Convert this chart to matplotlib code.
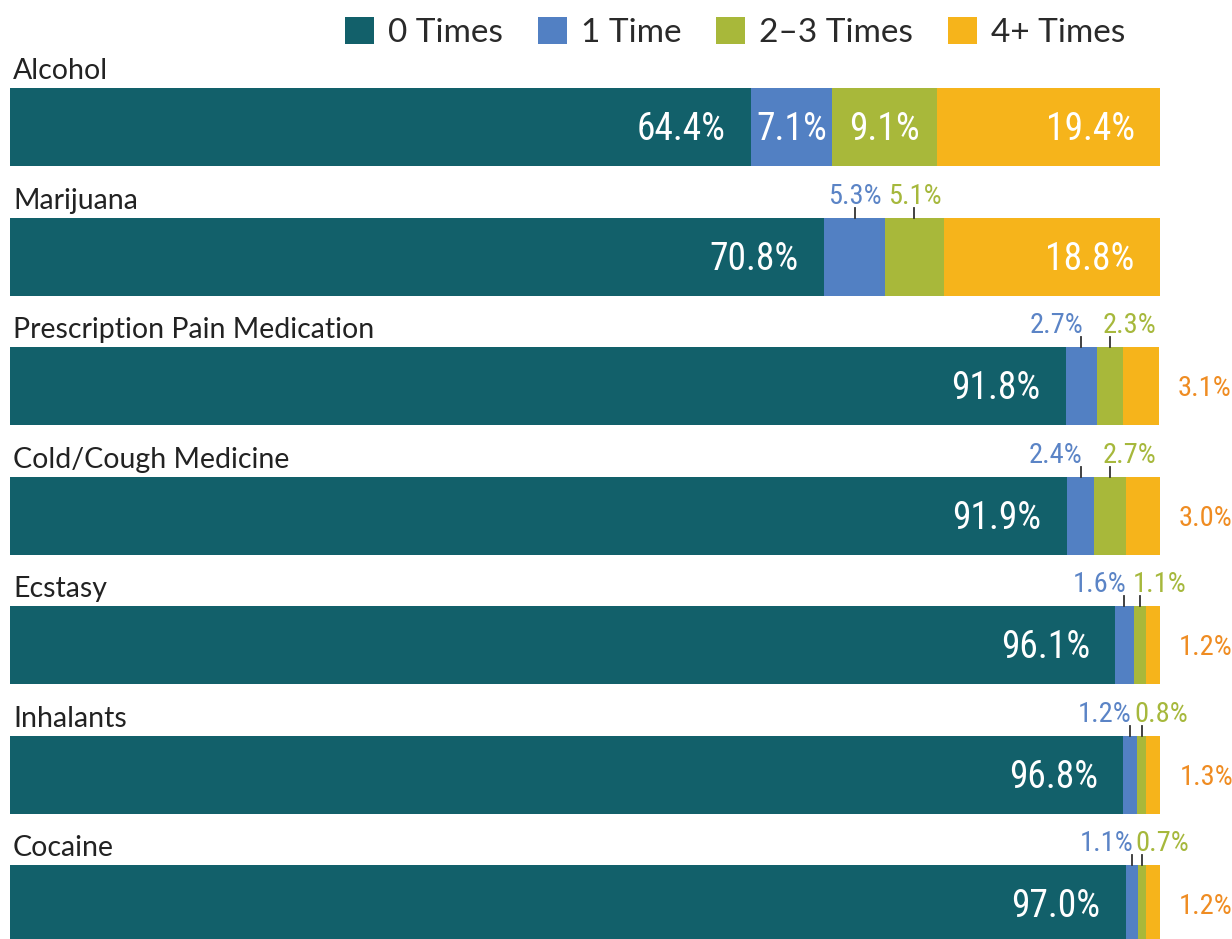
import matplotlib
matplotlib.use('Agg')

import matplotlib.pyplot as plt
from matplotlib.patches import Patch

# data
categories = ['Alcohol', 'Marijuana', 'Prescription Pain Medication',
              'Cold/Cough Medicine', 'Ecstasy', 'Inhalants', 'Cocaine']
times_0 = [64.4, 70.8, 91.8, 91.9, 96.1, 96.8, 97.0]
times_1 = [7.1, 5.3, 2.7, 2.4, 1.6, 1.2, 1.1]
times_2_3 = [9.1, 5.1, 2.3, 2.7, 1.1, 0.8, 0.7]
times_4 = [19.4, 18.8, 3.1, 3.0, 1.2, 1.3, 1.2]
series_names = ['0 Times', '1 Time', '2\u20133 Times', '4+ Times']

bar_colors = ['#12606a', '#5280c3', '#a8b83a', '#f6b41b']
label_colors = ['#ffffff', '#5b84c6', '#a6b83c', '#ef8c22']

PCT_FONT = ['Roboto Condensed', 'PT Sans Narrow', 'Roboto', 'DejaVu Sans']
CAT_FONT = ['Lato', 'DejaVu Sans']

fig = plt.figure(figsize=(12.32, 9.39), dpi=100)
# axes spans 10px..1160px horizontally (0..100 %), full height
ax = fig.add_axes([10 / 1232, 0, 1150 / 1232, 1])
ax.set_xlim(0, 100)
ax.set_ylim(6.27, -0.981)
ax.axis('off')

height = 0.602
half = height / 2
px = 1 / 129.5  # one pixel in row units

series = [times_0, times_1, times_2_3, times_4]
for i, cat in enumerate(categories):
    left = 0
    for k, vals in enumerate(series):
        v = vals[i]
        ax.barh(i, v, left=left, height=height, color=bar_colors[k], linewidth=0)
        right = left + v
        center = left + v / 2
        txt = f'{v:.1f}%'
        if k == 0 or v >= 6:
            # label inside segment
            if k in (0, 3):
                ax.text(right - 2.2, i + 0.02, txt, ha='right', va='center',
                        color='white', fontsize=27, family=PCT_FONT)
            else:
                ax.text(center, i + 0.02, txt, ha='center', va='center',
                        color='white', fontsize=27, family=PCT_FONT)
        elif k in (1, 2):
            # small label above the bar with a tick
            top = i - half
            ax.plot([center, center], [top, top - 10 * px], color='#333333', lw=1.3)
            if v >= 4:
                ha, x = 'center', center
            elif k == 1:
                ha, x = 'right', center + 0.15
            else:
                ha, x = 'left', center - 0.6
            ax.text(x, top - 14 * px, txt, ha=ha, va='baseline',
                    color=label_colors[k], fontsize=20.5, family=PCT_FONT)
        else:
            # small label to the right of the bar
            ax.plot([right + 0.15, right + 1.1], [i, i], color='#333333', lw=1.3)
            ax.text(right + 1.6, i + 0.02, txt, ha='left', va='center',
                    color=label_colors[k], fontsize=20.5, family=PCT_FONT)
        left = right
    ax.text(0.26, i - half - 9 * px, cat, ha='left', va='baseline',
            color='#222222', fontsize=20.5, family=CAT_FONT)

handles = [Patch(facecolor=c, edgecolor='none') for c in bar_colors]
leg = fig.legend(handles, series_names, loc='upper right',
                 bbox_to_anchor=(1142 / 1232, 1.0), ncol=4, frameon=False,
                 prop={'family': CAT_FONT, 'size': 24},
                 handlelength=0.87, handleheight=0.87, handletextpad=0.42,
                 columnspacing=1.05, borderaxespad=0.1)
for t in leg.get_texts():
    t.set_color('#2a2a2a')

fig.savefig('out.png', dpi=100, facecolor='white')
